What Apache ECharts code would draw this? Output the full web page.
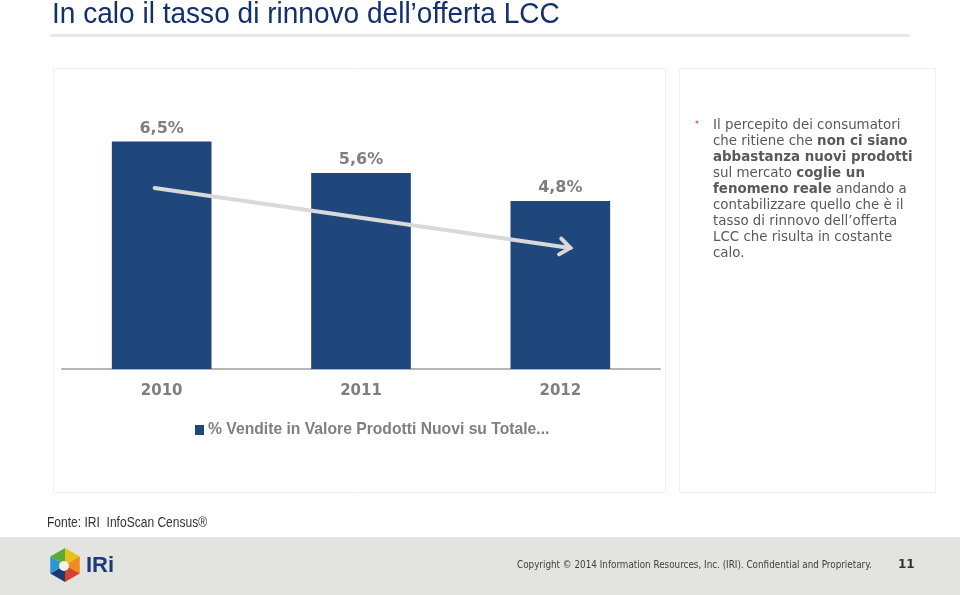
<!DOCTYPE html>
<html>
<head>
<meta charset="utf-8">
<script src="https://cdn.jsdelivr.net/npm/echarts@6/dist/echarts.min.js"></script>
<style>
html,body{margin:0;padding:0;background:#fff;}
#main{width:960px;height:595px;}
</style>
</head>
<body>
<div id="main"></div>
<script>
// ---- data ----
const categories = ['2010', '2011', '2012'];
const seriesName = '% Vendite in Valore Prodotti Nuovi su Totale...';
const values = [6.5, 5.6, 4.8];
const labelTexts = ['6,5%', '5,6%', '4,8%'];
// trend arrow annotation in data space: [category index, value]
const arrowStart = [0, 5.17];
const arrowEnd = [2, 3.46];

const titleText = 'In calo il tasso di rinnovo dell\u2019offerta LCC';
const noteLines = [
  [['n', 'Il percepito dei consumatori']],
  [['n', 'che ritiene che '], ['b', 'non ci siano']],
  [['b', 'abbastanza nuovi prodotti']],
  [['n', 'sul mercato '], ['b', 'coglie un']],
  [['b', 'fenomeno reale'], ['n', ' andando a']],
  [['n', 'contabilizzare quello che \u00e8 il']],
  [['n', 'tasso di rinnovo dell\u2019offerta']],
  [['n', 'LCC che risulta in costante']],
  [['n', 'calo.']]
];
const sourceText = 'Fonte: IRI  InfoScan Census\u00ae';
const copyrightText = 'Copyright \u00a9 2014 Information Resources, Inc. (IRI). Confidential and Proprietary.';
const pageNumber = '11';

const chart = echarts.init(document.getElementById('main'), null, {renderer: 'canvas'});

const noteText = noteLines.map(l => l.map(([s, t]) => '{' + s + '|' + t + '}').join('')).join('\n');

const barColor = '#1f477c';
const gray = '#7f7f7f';

function logoGraphics() {
  const cx = 65, cy = 565, r = 17;
  const cols = ['#e2c21c', '#f08b1d', '#d6432b', '#1d3a78', '#2a97d4', '#5aab35'];
  const els = [];
  for (let i = 0; i < 6; i++) {
    const a1 = (-90 + i * 60) * Math.PI / 180;
    const a2 = (-90 + (i + 1) * 60) * Math.PI / 180;
    els.push({
      type: 'polygon',
      shape: {points: [[cx, cy], [cx + r * Math.cos(a1), cy + r * Math.sin(a1)], [cx + r * Math.cos(a2), cy + r * Math.sin(a2)]]},
      style: {fill: cols[i]}
    });
  }
  els.push({type: 'circle', shape: {cx: cx - 1, cy: cy + 1, r: 5}, style: {fill: '#f4f1e6'}});
  return els;
}

const option = {
  animation: false,
  backgroundColor: '#ffffff',
  grid: {left: 62, right: 300, top: 89, height: 280, containLabel: false},
  xAxis: {
    type: 'category',
    data: categories,
    axisLine: {show: true, lineStyle: {color: '#b5b5b5', width: 2}},
    axisTick: {show: false},
    axisLabel: {color: gray, fontFamily: 'DejaVu Sans', fontWeight: 'bold', fontSize: 15, margin: 15}
  },
  yAxis: {
    type: 'value', min: 0, max: 8, show: false, splitLine: {show: false}
  },
  legend: {
    left: 190, top: 417,
    itemWidth: 9, itemHeight: 10, itemGap: 4,
    icon: 'rect',
    textStyle: {color: gray, fontFamily: 'Liberation Sans', fontWeight: 'bold', fontSize: 15.7, padding: [0, 0, 0, -1]},
    data: [seriesName]
  },
  series: [{
    name: seriesName,
    type: 'bar',
    data: values,
    barWidth: '50%',
    itemStyle: {color: barColor},
    label: {
      show: true, position: 'top', distance: 5,
      color: gray, fontFamily: 'DejaVu Sans', fontWeight: 'bold', fontSize: 16,
      formatter: p => labelTexts[p.dataIndex]
    },
    z: 2
  }],
  graphic: []
};

chart.setOption(option);

// arrow computed from data coordinates
const p0 = chart.convertToPixel({gridIndex: 0}, [categories[arrowStart[0]], arrowStart[1]]);
const p1 = chart.convertToPixel({gridIndex: 0}, [categories[arrowEnd[0]], arrowEnd[1]]);
p0[0] -= 7; p1[0] += 10;
const ang = Math.atan2(p1[1] - p0[1], p1[0] - p0[0]);
const hl = 13, ha = 38 * Math.PI / 180;
const h1 = [p1[0] - hl * Math.cos(ang - ha), p1[1] - hl * Math.sin(ang - ha)];
const h2 = [p1[0] - hl * Math.cos(ang + ha), p1[1] - hl * Math.sin(ang + ha)];

const graphics = [
  // panels
  {type: 'rect', shape: {x: 53.5, y: 68.5, width: 612, height: 424}, style: {fill: '#fff', stroke: '#f0f0f0', lineWidth: 1}, z: -10},
  {type: 'rect', shape: {x: 679.5, y: 68.5, width: 256, height: 424}, style: {fill: '#fff', stroke: '#f0f0f0', lineWidth: 1}, z: -10},
  // title
  {type: 'text', x: 52, y: 14.5, scaleX: 0.935, style: {text: titleText, fill: '#12306c', font: '30px "Liberation Sans", sans-serif', textVerticalAlign: 'middle'}},
  {type: 'rect', shape: {x: 50, y: 34, width: 860, height: 3}, style: {fill: '#e8e8e8'}},
  // arrow
  {type: 'polyline', shape: {points: [p0, p1]}, style: {stroke: '#d9d9d9', lineWidth: 4, lineCap: 'round'}, z: 10},
  {type: 'polyline', shape: {points: [h1, p1, h2]}, style: {stroke: '#d9d9d9', lineWidth: 4, lineCap: 'round', lineJoin: 'miter', fill: null}, z: 10},
  // note
  {type: 'circle', shape: {cx: 697, cy: 122, r: 1.6}, style: {fill: '#e07a50'}},
  {type: 'text', x: 713, y: 117, style: {
    text: noteText,
    font: '13.4px "DejaVu Sans"',
    fill: '#595959',
    lineHeight: 16.1,
    rich: {
      n: {fontFamily: 'DejaVu Sans', fontSize: 13.4, color: '#595959', lineHeight: 16.1},
      b: {fontFamily: 'DejaVu Sans', fontSize: 13.4, fontWeight: 'bold', color: '#595959', lineHeight: 16.1}
    }
  }},
  // source
  {type: 'text', x: 47, y: 523, scaleX: 0.86, style: {text: sourceText, fill: '#333', font: '14px "Liberation Sans", sans-serif', textVerticalAlign: 'middle'}},
  // footer
  {type: 'rect', shape: {x: 0, y: 537, width: 960, height: 58}, style: {fill: '#e3e3df'}, z: -5},
  {type: 'text', x: 86, y: 566, style: {text: 'IRi', fill: '#1d3a78', font: 'bold 22px "Liberation Sans", sans-serif', textVerticalAlign: 'middle'}},
  {type: 'text', x: 517, y: 565, style: {text: copyrightText, fill: '#404040', font: '9.8px "DejaVu Sans Condensed", sans-serif', textVerticalAlign: 'middle'}},
  {type: 'text', x: 898, y: 565, style: {text: pageNumber, fill: '#333', font: 'bold 12px "DejaVu Sans", sans-serif', textVerticalAlign: 'middle'}}
].concat(logoGraphics());

chart.setOption({graphic: graphics});
</script>
</body>
</html>
